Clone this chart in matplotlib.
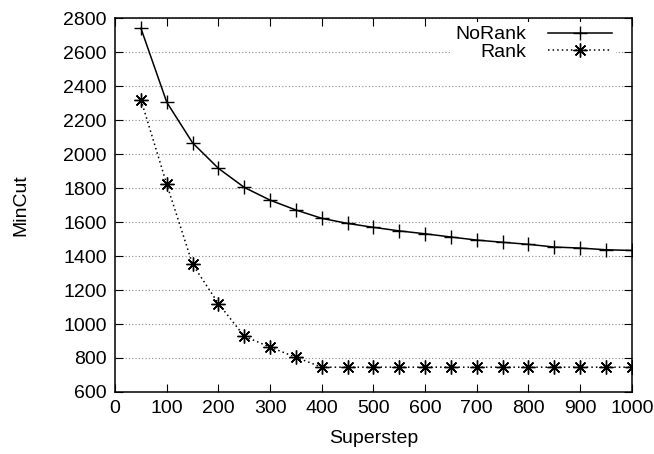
import matplotlib
matplotlib.use("Agg")
import matplotlib.pyplot as plt

plt.rcParams['font.family'] = ['Liberation Sans', 'DejaVu Sans']

supersteps = [50, 100, 150, 200, 250, 300, 350, 400, 450, 500, 550, 600, 650,
              700, 750, 800, 850, 900, 950, 1000]
norank = [2740, 2305, 2066, 1916, 1804, 1729, 1671, 1622, 1592, 1569, 1548, 1531,
          1512, 1494, 1481, 1469, 1453, 1447, 1437, 1433]
rank = [2320, 1822, 1351, 1120, 928, 864, 804, 746, 746, 746, 746, 746, 746,
        746, 746, 746, 746, 746, 746, 746]

x_ticks = list(range(0, 1001, 100))
y_ticks = list(range(600, 2801, 200))

fig = plt.figure(figsize=(6.54, 4.54), dpi=100)
ax = fig.add_axes([0.176, 0.1366, 0.790, 0.8234])

ax.plot(supersteps, norank, color='black', linestyle='-', linewidth=1.1,
        marker='+', markersize=10, markeredgewidth=1.0, label='NoRank')
ax.plot(supersteps, rank, color='black', linestyle=(0, (1, 2)), linewidth=1.1,
        marker=(8, 2, 0), markersize=10, markeredgewidth=1.0, label='Rank')

ax.set_xlim(0, 1000)
ax.set_ylim(600, 2800)
ax.set_xticks(x_ticks)
ax.set_yticks(y_ticks)
ax.tick_params(direction='in', top=True, right=True, labelsize=14, length=6,
               width=0.8, pad=6)
ax.yaxis.grid(True, linestyle=(0, (1, 2)), color='#888888', linewidth=0.8)
ax.set_axisbelow(True)
for s in ax.spines.values():
    s.set_linewidth(1.1)

ax.set_xlabel('Superstep', fontsize=14, labelpad=9)
ax.set_ylabel('MinCut', fontsize=14, labelpad=24)

leg = ax.legend(loc='upper right', bbox_to_anchor=(0.969, 0.99), frameon=True,
                markerfirst=False, fontsize=14, handlelength=3.3,
                borderaxespad=0.0, handletextpad=1.1, labelspacing=0.0,
                fancybox=False, edgecolor='none', borderpad=0.2)
leg.get_frame().set_facecolor('white')
leg.get_frame().set_alpha(1)
for t in leg.get_texts():
    t.set_ha('right')

fig.savefig('out.png', dpi=100)
